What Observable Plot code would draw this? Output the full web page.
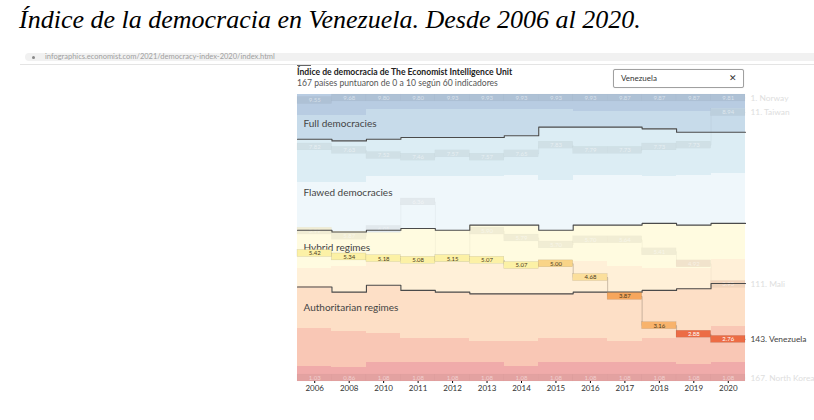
<!DOCTYPE html>
<html><head><meta charset="utf-8">
<script src="https://cdn.jsdelivr.net/npm/d3@7"></script>
<script src="https://cdn.jsdelivr.net/npm/@observablehq/plot@0.6"></script>
<style>
body{margin:0;width:814px;height:420px;overflow:hidden;background:#fff;position:relative;font-family:Lato,"Open Sans",sans-serif}
#chart{position:absolute;left:0;top:0}
#title{position:absolute;left:19px;top:5px;font-family:"Liberation Serif","Times New Roman",serif;font-style:italic;font-size:26px;line-height:30px;color:#000;white-space:nowrap}
#urlbar{position:absolute;left:25px;top:53px;width:800px;height:8px;background:#f1f1f1;border-radius:4px}
#urltext{position:absolute;left:45px;top:53px;font-size:7.5px;line-height:8px;color:#a0a0a0;white-space:nowrap}
#dot{position:absolute;left:32px;top:56px;width:3px;height:3px;border-radius:2px;background:#888}
#rule{position:absolute;left:20px;top:64px;width:794px;height:1px;background:#e4e4e4}
#mark{position:absolute;left:297px;top:65px;width:14px;height:1px;background:#666}
#ctitle{position:absolute;left:297px;top:67px;font-size:8.6px;line-height:11px;font-weight:bold;color:#222;white-space:nowrap}
#csub{position:absolute;left:297px;top:78px;font-size:8.6px;line-height:11px;color:#555;white-space:nowrap}
#search{position:absolute;left:613px;top:69px;width:129px;height:17px;border:1px solid #a0a0a0;border-radius:2px;background:#fff;box-shadow:0 0 1px #ccc}
#search span{position:absolute;left:7px;top:3px;font-size:8px;line-height:11px;color:#333}
#search b{position:absolute;right:6px;top:2px;font-size:9px;line-height:12px;color:#333;font-weight:normal}
</style></head>
<body>
<div id="chart"></div>
<div id="title">Índice de la democracia en Venezuela. Desde 2006 al 2020.</div>
<div id="urlbar"></div><div id="dot"></div>
<div id="urltext">infographics.economist.com/2021/democracy-index-2020/index.html</div>
<div id="rule"></div>
<div id="mark"></div>
<div id="ctitle">Índice de democracia de The Economist Intelligence Unit</div>
<div id="csub">167 países puntuaron de 0 a 10 según 60 indicadores</div>
<div id="search"><span>Venezuela</span><b>✕</b></div>
<script>
const years = ["2006","2008","2010","2011","2012","2013","2014","2015","2016","2017","2018","2019","2020"];
const totalCountries = 167;
// number of countries scoring at or above each threshold (rank boundaries)
const atLeast9 = [12,12,9,9,9,9,9,9,10,10,10,10,8];
const atLeast8 = [26,27,26,25,25,25,24,19,19,19,20,22,22];
const atLeast7 = [51,51,48,48,48,48,47,50,47,47,48,47,46];
const atLeast6 = [79,80,79,78,79,76,76,79,76,76,75,76,75];
const atLeast5 = [101,100,98,99,98,99,101,100,97,100,101,101,96];
const atLeast4 = [112,115,111,114,115,116,116,116,115,115,114,113,110];
const atLeast3 = [136,138,139,142,142,144,144,142,142,144,142,138,135];
const atLeast2 = [158,159,156,156,156,156,158,156,156,156,156,157,156];

const bandColors = ["#b8cce2","#c7dbea","#dcedf4","#eff7fb","#fffbe0","#fff0d8","#fddfc6","#f9c7b5","#f0abaa"];
const bandMin = [9,8,7,6,5,4,3,2,1];

const venezuelaScore = [5.42,5.34,5.18,5.08,5.15,5.07,5.07,5.00,4.68,3.87,3.16,2.88,2.76];
const venezuelaRank  = [93,95,96,97,96,97,100,99,107,118,135,140,143];
const norwayScore = [9.55,9.68,9.80,9.80,9.93,9.93,9.93,9.93,9.93,9.87,9.87,9.87,9.81];
const norwayRank  = [4,2,1,1,1,1,1,1,1,1,1,1,1];
const taiwanScore = [7.82,7.63,7.52,7.46,7.57,7.57,7.65,7.83,7.79,7.73,7.73,7.73,8.94];
const taiwanRank  = [31,33,36,37,35,37,35,30,33,33,31,30,11];
const maliScore = [5.99,5.87,6.01,6.36,5.12,5.90,5.79,5.70,5.70,5.64,5.41,4.92,3.93];
const maliRank  = [80,83,79,63,96,80,84,88,85,85,92,99,111];
const nkScore = [1.03,0.86,1.08,1.08,1.08,1.08,1.08,1.08,1.08,1.08,1.08,1.08,1.08];
const nkRank  = [167,167,167,167,167,167,167,167,167,167,167,167,167];

const regimeNames = ["Full democracies","Flawed democracies","Hybrid regimes","Authoritarian regimes"];

// ---- build tables ----
const bounds = [atLeast9, atLeast8, atLeast7, atLeast6, atLeast5, atLeast4, atLeast3, atLeast2];
const bandRows = [];
years.forEach((y, i) => {
  for (let k = 0; k < bandColors.length; k++) {
    const y1 = k === 0 ? 0 : bounds[k-1][i];
    const y2 = k === bounds.length ? totalCountries : bounds[k][i];
    bandRows.push({x1: i, x2: i + 1, y1, y2, fill: bandColors[k]});
  }
});
function classColor(score) {
  for (let k = 0; k < bandMin.length; k++) if (score >= bandMin[k]) return bandColors[k];
  return bandColors[bandColors.length - 1];
}
const half = 2;
function boxRows(scores, ranks, name) {
  return years.map((yr, i) => {
    let c = ranks[i] - 0.5;
    c = Math.max(half, Math.min(totalCountries - half, c));
    return {name, i, score: scores[i], c, y1: c - half, y2: c + half, x1: i, x2: i + 1};
  });
}
function stepRows(values) {
  const pts = values.map((v, i) => ({x: i, y: v}));
  pts.push({x: values.length, y: values[values.length - 1]});
  return pts;
}
const tracked = [
  boxRows(norwayScore, norwayRank, "Norway"),
  boxRows(taiwanScore, taiwanRank, "Taiwan"),
  boxRows(maliScore, maliRank, "Mali"),
  boxRows(nkScore, nkRank, "North Korea")
];
const ven = boxRows(venezuelaScore, venezuelaRank, "Venezuela");
const venFill = d3.scaleThreshold().domain([3, 3.5, 4.6, 4.9, 5.05])
  .range(["#ec6c45","#f8b36c","#f6a65c","#fbdf9c","#f9d488","#fcf1a6"]);

const rightLabels = [
  {rank: norwayRank, name: "Norway", rows: tracked[0], fill: "#dedede"},
  {rank: taiwanRank, name: "Taiwan", rows: tracked[1], fill: "#dedede"},
  {rank: maliRank, name: "Mali", rows: tracked[2], fill: "#dedede"},
  {rank: venezuelaRank, name: "Venezuela", rows: ven, fill: "#444"},
  {rank: nkRank, name: "North Korea", rows: tracked[3], fill: "#dedede"}
].map(d => ({text: `${d.rank[d.rank.length-1]}. ${d.name}`, c: d.rows[d.rows.length-1].c, fill: d.fill}));

const regimeAnchors = [atLeast9[0], atLeast7[0], atLeast6[0], atLeast4[0]];
const regimeDy = [9, 11, 18, 21];

const marks = [
  Plot.rect(bandRows, {x1: "x1", x2: "x2", y1: "y1", y2: "y2", fill: "fill", shapeRendering: "crispEdges"}),
];
tracked.forEach(rows => {
  marks.push(Plot.line(stepRows(rows.map(d => d.c)), {x: "x", y: "y", curve: "step-after", stroke: "#000", strokeOpacity: 0.05, strokeWidth: 0.8}));
  marks.push(Plot.rect(rows, {x1: "x1", x2: "x2", y1: "y1", y2: "y2", fill: d => d3.color(classColor(d.score)).darker(0.16).formatHex(), stroke: "#000", strokeOpacity: 0.03, strokeWidth: 0.5}));
  marks.push(Plot.text(rows, {x: d => d.i + 0.5, y: "c", text: d => d.score.toFixed(2), fill: "#fff", fillOpacity: 0.5, fontSize: 6}));
});
[atLeast8, atLeast6, atLeast4].forEach(b => {
  marks.push(Plot.line(stepRows(b), {x: "x", y: "y", curve: "step-after", stroke: "#4a4a4a", strokeWidth: 1.1}));
});
regimeNames.forEach((name, j) => {
  marks.push(Plot.text([name], {x: 0, y: regimeAnchors[j], text: d => d, dx: 6, dy: regimeDy[j], textAnchor: "start", fill: "#444", fontSize: 10}));
});
marks.push(Plot.line(stepRows(ven.map(d => d.c)), {x: "x", y: "y", curve: "step-after", stroke: "#8a7a6a", strokeOpacity: 0.55, strokeWidth: 0.8}));
marks.push(Plot.rect(ven, {x1: "x1", x2: "x2", y1: "y1", y2: "y2", fill: d => venFill(d.score), stroke: "#000", strokeOpacity: 0.15, strokeWidth: 0.5}));
marks.push(Plot.text(ven, {x: d => d.i + 0.5, y: "c", text: d => d.score.toFixed(2), fill: d => d.score < 3 ? "#fff" : "#4a3a20", fontSize: 6}));
marks.push(Plot.text(rightLabels, {x: years.length, y: "c", text: "text", fill: "fill", dx: 5, textAnchor: "start", fontSize: 8.4}));
marks.push(Plot.axisX({ticks: years.map((_, i) => i + 0.5), tickFormat: t => years[Math.floor(t)], tickSize: 2, tickPadding: 2, fontSize: 8, fill: "#333", label: null}));

const chart = Plot.plot({
  width: 814, height: 420,
  marginLeft: 297, marginRight: 69, marginTop: 94, marginBottom: 39,
  x: {domain: [0, years.length]},
  y: {domain: [0, totalCountries], reverse: true, axis: null},
  color: {type: "identity"},
  style: {fontFamily: "Lato, 'Open Sans', sans-serif", background: "transparent", overflow: "visible"},
  marks
});
document.getElementById("chart").appendChild(chart);
</script>
</body></html>
